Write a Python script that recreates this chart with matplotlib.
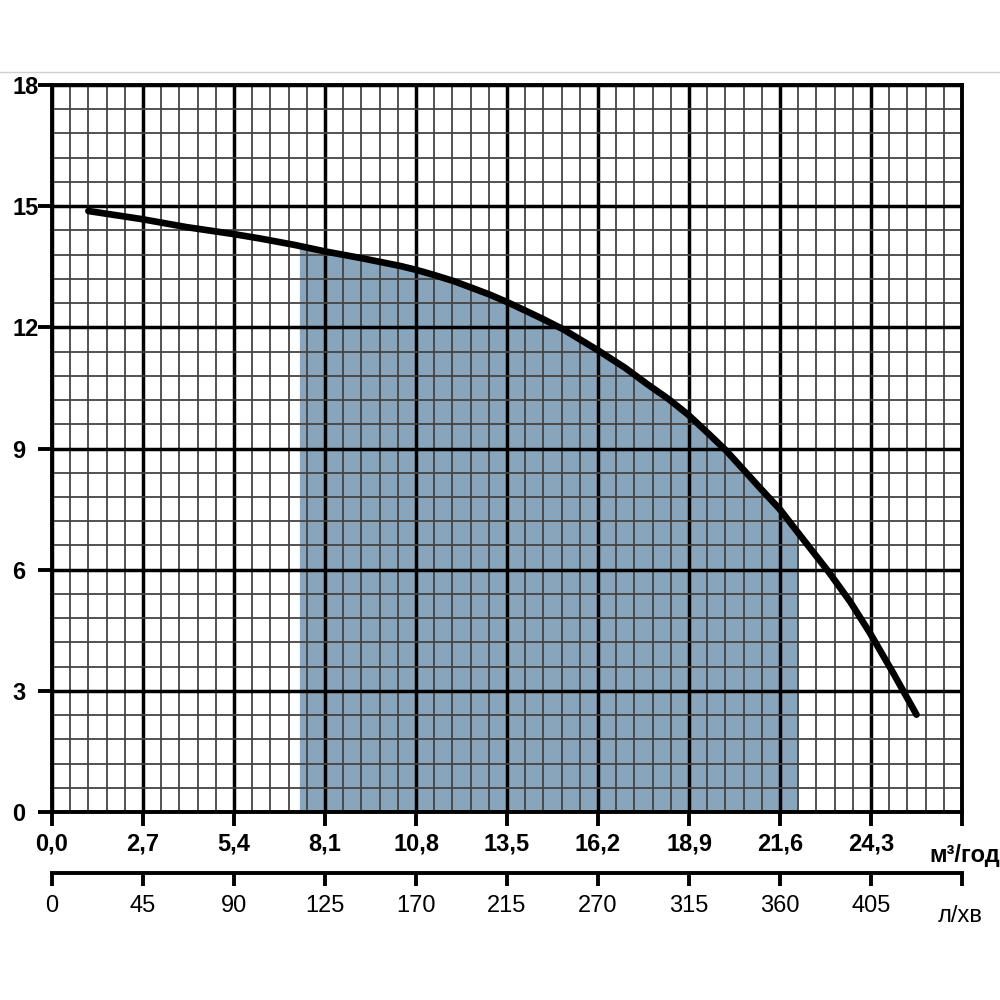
import numpy as np
import matplotlib
matplotlib.use("Agg")
import matplotlib.pyplot as plt
from matplotlib.ticker import MultipleLocator, FixedLocator
from matplotlib.lines import Line2D

plt.rcParams['font.family'] = ['Liberation Sans', 'DejaVu Sans']

# Data
flow_m3h = [1.08, 2.66, 4.0, 5.38, 6.17, 7.2, 8.1, 9.2, 10.33, 10.82, 11.36,
            11.9, 12.45, 12.99, 13.49, 14.03, 14.58, 15.17, 16.2, 17.0, 17.65,
            18.3, 18.87, 19.5, 20.0, 21.0, 21.6, 22.14, 23.03, 23.68, 24.27,
            24.96, 25.65]
head_m = [14.88, 14.68, 14.48, 14.31, 14.20, 14.04, 13.88, 13.71, 13.52, 13.42,
          13.29, 13.15, 12.98, 12.81, 12.63, 12.42, 12.20, 11.95, 11.43, 11.0,
          10.6, 10.22, 9.84, 9.35, 8.95, 8.03, 7.49, 6.91, 5.96, 5.21, 4.43,
          3.44, 2.41]
work_range = [7.34, 22.14]

x_ticks = [0.0, 2.7, 5.4, 8.1, 10.8, 13.5, 16.2, 18.9, 21.6, 24.3, 27.0]
x_labels = ["0,0", "2,7", "5,4", "8,1", "10,8", "13,5", "16,2", "18,9", "21,6", "24,3", ""]
lmin_labels = ["0", "45", "90", "125", "170", "215", "270", "315", "360", "405", ""]
y_ticks = [0, 3, 6, 9, 12, 15, 18]

fig = plt.figure(figsize=(10, 10), dpi=100)
ax = fig.add_axes([0.052, 0.188, 0.910, 0.727])

ax.set_xlim(0, 27.0)
ax.set_ylim(0, 18)

# shaded working range
q = np.array(flow_m3h)
h = np.array(head_m)
mask_q = np.linspace(work_range[0], work_range[1], 400)
mask_h = np.interp(mask_q, q, h)
ax.fill_between(mask_q, 0, mask_h, color='#89a5bc', lw=0, zorder=1)

# curve
ax.plot(q, h, color='black', lw=4.8, solid_capstyle='round', solid_joinstyle='round', zorder=3)

# grid
ax.xaxis.set_major_locator(FixedLocator(x_ticks))
ax.xaxis.set_minor_locator(MultipleLocator(0.54))
ax.yaxis.set_major_locator(FixedLocator(y_ticks))
ax.yaxis.set_minor_locator(MultipleLocator(0.6))
ax.grid(which='major', color='black', lw=2.5)
ax.grid(which='minor', color='#444444', lw=1.3)

for s in ax.spines.values():
    s.set_linewidth(2.8)

ax.set_xticklabels(x_labels, fontweight='bold', fontsize=17)
ax.set_yticklabels([str(v) for v in y_ticks], fontweight='bold', fontsize=17, ha='left')
ax.tick_params(axis='x', which='major', length=10, width=2.8, pad=5, direction='out')
ax.tick_params(axis='y', which='major', length=10, width=2.8, pad=18.5, direction='out')
ax.tick_params(which='minor', length=0)

# secondary axis l/min
ax2 = ax.twiny()
ax2.set_xlim(0, 27.0)
ax2.xaxis.set_ticks_position('bottom')
ax2.xaxis.set_label_position('bottom')
ax2.spines['bottom'].set_position(('outward', 44))
for k in ['top', 'left', 'right']:
    ax2.spines[k].set_visible(False)
ax2.spines['bottom'].set_linewidth(2.8)
ax2.xaxis.set_major_locator(FixedLocator(x_ticks))
ax2.set_xticklabels(lmin_labels, fontsize=17)
ax2.tick_params(axis='x', length=9, width=2.8, pad=7)

fig.text(1.0, 0.138, "м³/год", fontweight='bold', fontsize=17, ha='right', va='baseline')
fig.text(0.960, 0.078, "л/хв", fontsize=17, ha='center', va='baseline')

fig.add_artist(Line2D([0, 1], [0.928, 0.928], color='#d0d0d0', lw=1))

fig.savefig("out.png", dpi=100)
